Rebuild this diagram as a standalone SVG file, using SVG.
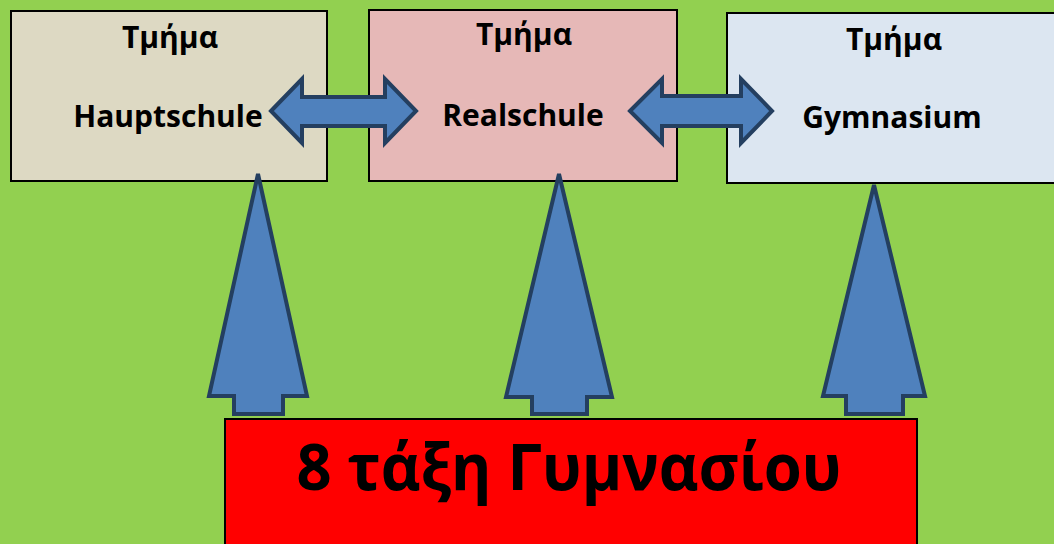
<svg xmlns="http://www.w3.org/2000/svg" width="1054" height="544" viewBox="0 0 1054 544">
<style>
.box{stroke:#000;stroke-width:2}
.arr{fill:#4F81BD;stroke:#243F60;stroke-width:4;stroke-linejoin:miter}
.t{font-family:"Open Sans","Liberation Sans",sans-serif;font-weight:bold;fill:#000;text-anchor:middle}
.s{font-size:30px}
.b{font-size:65px}
</style>
<rect width="1054" height="544" fill="#92D050"/>
<g id="hauptschule">
<rect class="box" x="11" y="11" width="316" height="170" fill="#DDD9C3"/>
<text class="t s" x="170" y="48">Τμήμα</text>
<text class="t s" x="168" y="127">Hauptschule</text>
</g>
<g id="realschule">
<rect class="box" x="369" y="10" width="308" height="171" fill="#E6B8B7"/>
<text class="t s" x="524" y="45">Τμήμα</text>
<text class="t s" x="523" y="126">Realschule</text>
</g>
<g id="gymnasium">
<rect class="box" x="727" y="13" width="330" height="170" fill="#DCE6F1"/>
<text class="t s" x="894" y="50">Τμήμα</text>
<text class="t s" x="892" y="128">Gymnasium</text>
</g>
<g id="gymnasio8">
<rect class="box" x="225" y="419" width="692" height="130" fill="#FF0000"/>
<text class="t b" x="569" y="490" textLength="545" lengthAdjust="spacingAndGlyphs">8 τάξη Γυμνασίου</text>
</g>
<g id="connectors">
<path class="arr" d="M271,111 L302,79 L302,97 L385,97 L385,79 L416,111 L385,143 L385,126 L302,126 L302,143 Z"/>
<path class="arr" d="M630,111 L662,79 L662,96 L741,96 L741,79 L772,111 L741,143 L741,126 L662,126 L662,143 Z"/>
<path class="arr" d="M258,174 L307,396 L283,396 L283,414 L234,414 L234,396 L209,396 Z"/>
<path class="arr" d="M559,174 L612,397 L587,397 L587,414 L532,414 L532,397 L506,397 Z"/>
<path class="arr" d="M874,185 L925,396 L903,396 L903,414 L846,414 L846,396 L823,396 Z"/>
</g>
</svg>
